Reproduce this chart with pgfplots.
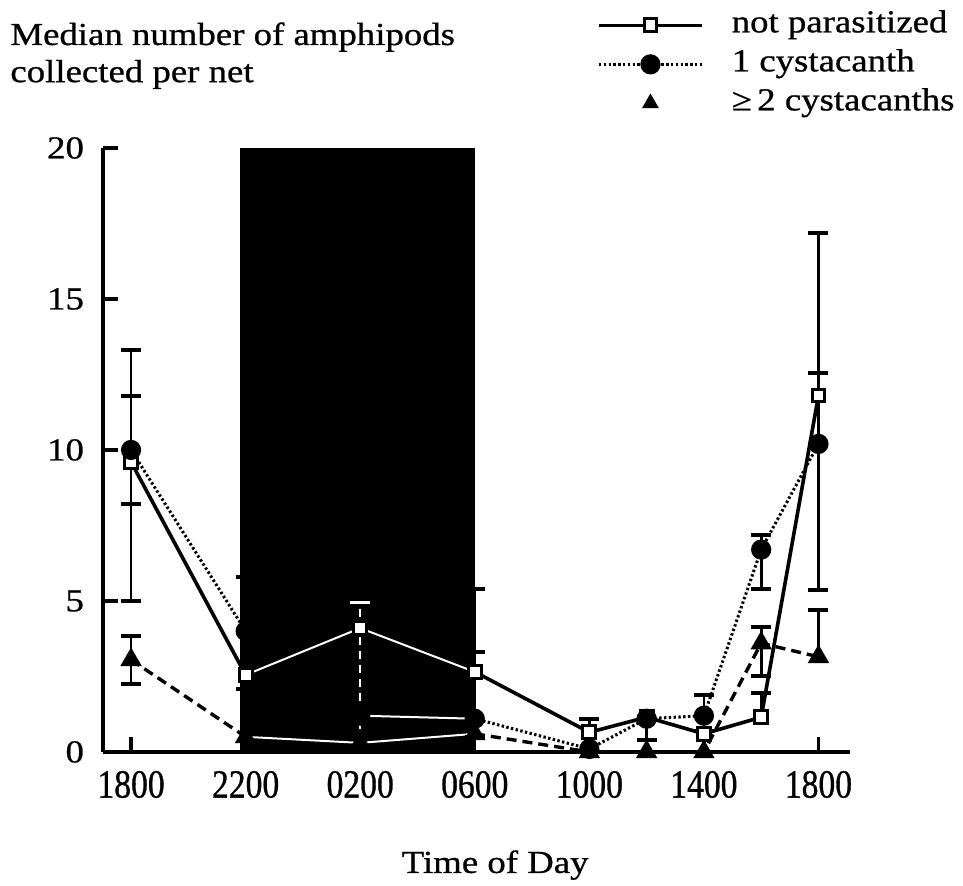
\documentclass[border=0pt]{standalone}
\usepackage{fontspec}
\setmainfont{Liberation Serif}[FakeStretch=1.15, FakeBold=0.8]
\newfontfamily\tickfont{Liberation Serif}[FakeStretch=0.84, FakeBold=0.8]
\usepackage{pgfplots}
\pgfplotsset{compat=1.18}
\usepackage{pgfplotstable}

% not parasitized
\pgfplotstableread{
x y
0 9.6
4 2.55
8 4.1
12 2.65
16 0.65
18 1.15
20 0.6
22 1.15
24 11.8
}\np
\pgfplotstableread{
x y
4 2.55
8 4.1
12 2.65
}\npW
% 1 cystacanth
\pgfplotstableread{
x y
0 10.0
4 4.0
8 1.2
12 1.1
16 0.1
18 1.1
20 1.2
22 6.7
24 10.2
}\ci
\pgfplotstableread{
x y
8 1.2
12 1.1
}\ciW
% >= 2 cystacanths
\pgfplotstableread{
x y
0 3.05
4 0.5
8 0.3
12 0.6
16 0.0
18 0.0
20 0.0
22 3.6
24 3.15
}\tr
\pgfplotstableread{
x y
4 0.5
8 0.3
12 0.6
}\trW
% error bars: vertical extents (low, high), separated by nan
\pgfplotstableread{
x y
0 5.0
0 13.3
0 nan
0 2.25
0 3.85
0 nan
4 4.0
4 5.8
4 nan
4 2.1
4 2.55
4 nan
12 0.5
12 5.4
12 nan
16 0.35
16 1.1
16 nan
18 0.4
18 1.15
18 nan
20 0.7
20 1.9
20 nan
22 5.4
22 7.2
22 nan
22 2.5
22 4.15
22 nan
22 1.15
22 1.95
22 nan
24 5.35
24 17.2
24 nan
24 3.15
24 4.7
}\barsB
% error bar caps
\pgfplotstableread{
x y
0 13.3
0 11.8
0 8.2
0 5.0
0 3.85
0 2.25
4 5.8
4 2.1
12 5.4
12 3.3
12 0.5
16 1.1
18 0.4
20 1.9
20 0.7
22 7.2
22 5.4
22 4.15
22 2.5
22 1.95
24 17.2
24 12.55
24 5.35
24 4.7
}\capsB
\pgfplotstableread{
x y
8 0.3
8 4.95
}\barsW
\pgfplotstableread{
x y
8 4.95
}\capsW

\begin{document}
\begin{tikzpicture}
\begin{axis}[
  scale only axis, width=373.5pt, height=302pt,
  xmin=-0.98, xmax=25.1, ymin=0, ymax=20,
  axis lines=left,
  axis line style={-, line width=1.6pt},
  clip=false,
  xtick={0,4,8,12,16,20,24},
  xticklabels={1800,2200,0200,0600,1000,1400,1800},
  ytick={0,5,10,15,20},
  tick align=inside, major tick length=7.5pt,
  tick style={line width=1.6pt, black},
  xticklabel style={font=\tickfont\fontsize{20}{22}\selectfont, yshift=-6pt},
  yticklabel style={font=\fontsize{16}{18}\selectfont, xshift=-6pt},
  /pgf/number format/assume math mode=true,
  unbounded coords=jump,
  legend cell align=left,
  legend image code/.code={\draw[mark repeat=2,mark phase=2,#1] plot coordinates {(0pt,0pt) (25.75pt,0pt) (51.5pt,0pt)};},
  legend style={at={(rel axis cs:0.661,1.2285)}, anchor=north west, draw=none, fill=none,
    inner sep=0pt, row sep=4.5pt, column sep=14pt,
    font=\fontsize{16}{18}\selectfont,
    nodes={inner sep=0pt, text height=11pt, text depth=4pt}},
]
% night
\addplot[fill=black, draw=none, forget plot] coordinates {(3.82,20) (12.02,20)} \closedcycle;

% error bars black
\addplot[black, line width=1.4pt, mark=none, forget plot] table[x=x,y=y] {\barsB};
\addplot[black, only marks, mark=-, mark size=5pt, mark options={line width=2pt}, forget plot] table[x=x,y=y] {\capsB};

% series
\addplot[black, line width=1.8pt, mark=square*, mark size=3.2pt,
  mark options={fill=white, solid, line width=1.5pt}] table[x=x,y=y] {\np};
\addlegendentry{not parasitized}
\addplot[black, line width=1.5pt, dash pattern=on 1.2pt off 1.2pt, mark=*, mark size=4.3pt,
  mark options={solid, fill=black}] table[x=x,y=y] {\ci};
\addlegendentry{1 cystacanth}
\addplot[black, line width=1.7pt, dash pattern=on 5pt off 3pt, mark=triangle*, mark size=4.5pt,
  mark options={solid, fill=black}, forget plot] table[x=x,y=y] {\tr};
\addlegendimage{black, only marks, mark=triangle*, mark size=4.5pt, mark options={fill=black, solid}}
\addlegendentry{≥\,2 cystacanths}

% white overlays in the dark
\addplot[white, line width=1pt, mark=none, forget plot] table[x=x,y=y] {\npW};
\addplot[white, line width=1pt, mark=none, forget plot] table[x=x,y=y] {\ciW};
\addplot[white, line width=1pt, mark=none, forget plot] table[x=x,y=y] {\trW};
\addplot[white, line width=1pt, dash pattern=on 4pt off 3pt, mark=none, forget plot] table[x=x,y=y] {\barsW};
\addplot[white, only marks, mark=-, mark size=5pt, mark options={line width=1.4pt}, forget plot] table[x=x,y=y] {\capsW};

% texts
\node[anchor=base west, inner sep=0pt, font=\fontsize{16}{18}\selectfont] at (rel axis cs:-0.1245,1.1705) {Median number of amphipods};
\node[anchor=base west, inner sep=0pt, font=\fontsize{16}{18}\selectfont] at (rel axis cs:-0.1245,1.109) {collected per net};
\node[anchor=base, inner sep=0pt, font=\fontsize{16}{18}\selectfont] at (rel axis cs:0.525,-0.2003) {Time of Day};
\coordinate (bbA) at (rel axis cs:-0.1379,-0.2219);
\coordinate (bbB) at (rel axis cs:1.1513,1.245);
\end{axis}
\pgfresetboundingbox
\path (bbA) rectangle (bbB);
\end{tikzpicture}
\end{document}
